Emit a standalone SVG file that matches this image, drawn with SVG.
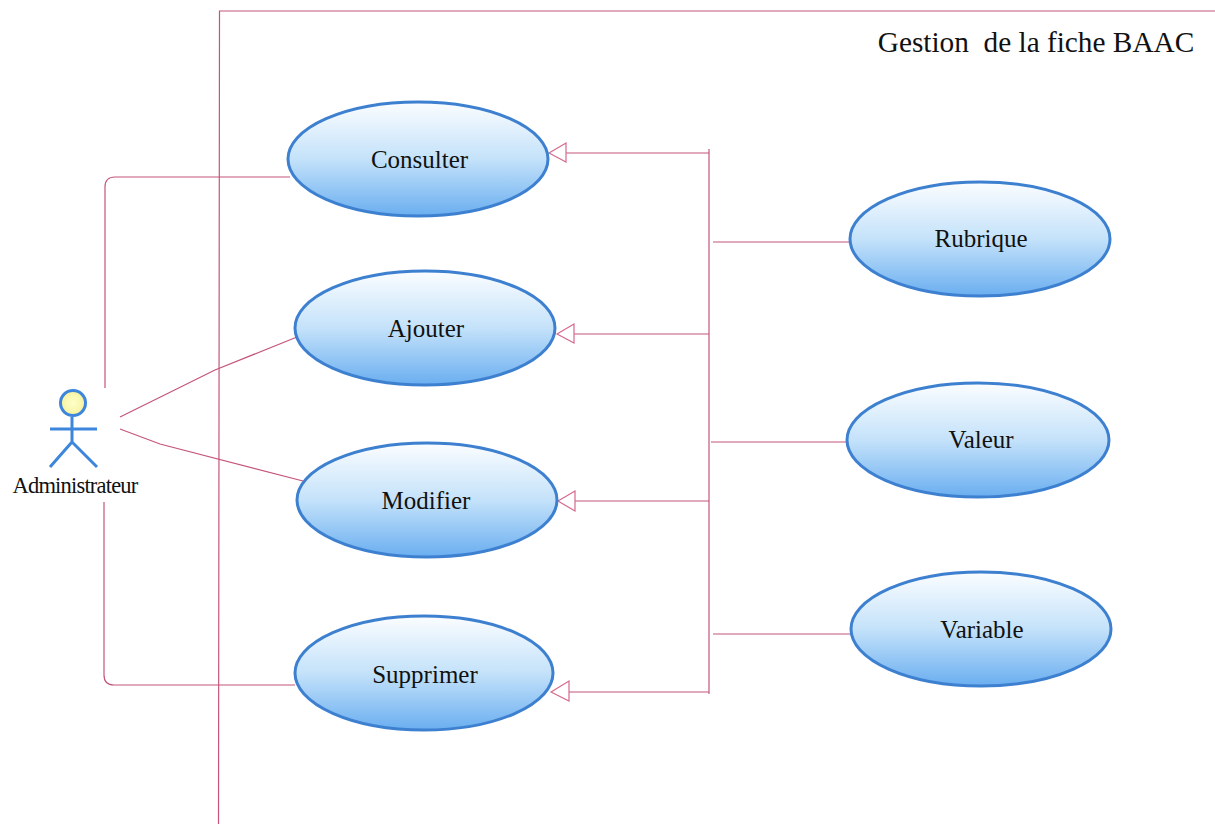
<svg xmlns="http://www.w3.org/2000/svg" width="1215" height="824" viewBox="0 0 1215 824">
<style>
.c{fill:none;stroke:#c4557a;stroke-width:1.2}
.h{fill:#fff;stroke:#d5698a;stroke-width:1.2}
.u{fill:url(#g);stroke:#3d80d0;stroke-width:3}
.a{fill:none;stroke:#3d86dc;stroke-width:3}
text{font-family:"Liberation Serif","Times New Roman",serif;fill:#111;text-anchor:middle;font-size:25px}
</style>
<defs>
<linearGradient id="g" x1="0" y1="0" x2="0" y2="1"><stop offset="0" stop-color="#fbfdff"/><stop offset="0.5" stop-color="#c4e2fa"/><stop offset="1" stop-color="#6aaef0"/></linearGradient>
<radialGradient id="y"><stop offset="0" stop-color="#ffffc8"/><stop offset="1" stop-color="#f6f2a0"/></radialGradient>
</defs>
<rect width="1215" height="824" fill="#fff"/>
<g id="connectors">
<path class="c" d="M1215 11H219.500L218.500 824"/>
<path class="c" d="M105 388V187Q105 177 115 177H290"/>
<path class="c" d="M104 502V675Q104 685 114 685H295"/>
<path class="c" d="M120 417L215 370L297 337"/>
<path class="c" d="M120 429L160 444L303 481"/>
<path class="c" d="M709 149V694"/>
<path class="c" d="M566 153H709M713 242H849M574 334H709M711 442H847M575 501H709M713 634H850M569 692H709"/>
<path class="h" d="M549 153L566 143V162Z"/>
<path class="h" d="M557 334L574 324V343Z"/>
<path class="h" d="M558 501L575 491V511Z"/>
<path class="h" d="M551 692L569 681V701Z"/>
</g>
<text id="title" x="1036" y="52" xml:space="preserve" style="font-size:29.300px">Gestion  de la fiche BAAC</text>
<g id="actor">
<circle cx="73" cy="403" r="12.500" fill="url(#y)" stroke="#3d86dc" stroke-width="3"/>
<path class="a" d="M72 417V442M50 429H97M72 442L50 467M72 442L97 467"/>
<text x="75" y="493" style="font-size:22.500px;letter-spacing:-.8px">Administrateur</text>
</g>
<g id="consulter"><ellipse class="u" cx="418" cy="159" rx="130" ry="57"/><text x="419.500" y="168">Consulter</text></g>
<g id="ajouter"><ellipse class="u" cx="425" cy="328" rx="130" ry="57"/><text x="426" y="337">Ajouter</text></g>
<g id="modifier"><ellipse class="u" cx="427" cy="500" rx="130" ry="57"/><text x="426" y="509">Modifier</text></g>
<g id="supprimer"><ellipse class="u" cx="424" cy="673" rx="129" ry="57"/><text x="425" y="683">Supprimer</text></g>
<g id="rubrique"><ellipse class="u" cx="980" cy="239" rx="130" ry="57"/><text x="981" y="247">Rubrique</text></g>
<g id="valeur"><ellipse class="u" cx="978" cy="440" rx="131" ry="57"/><text x="981" y="448">Valeur</text></g>
<g id="variable"><ellipse class="u" cx="981" cy="629" rx="130" ry="57"/><text x="982" y="638">Variable</text></g>
</svg>
